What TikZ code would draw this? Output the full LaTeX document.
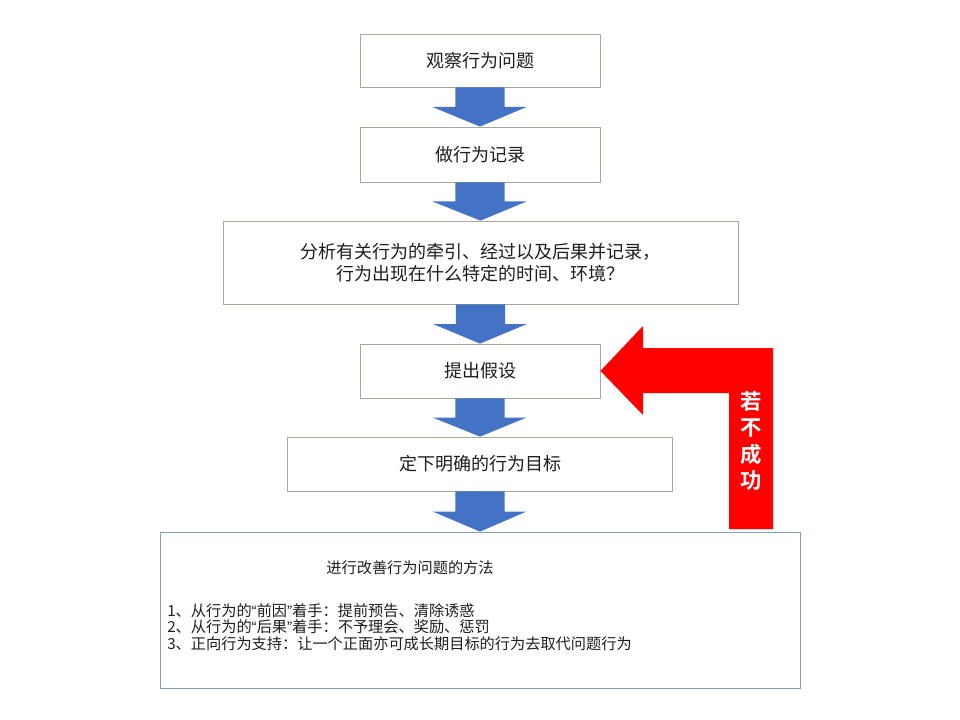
\documentclass[tikz,border=0pt]{standalone}
\usepackage{fontspec}
\setmainfont{Noto Sans CJK SC}
\newfontfamily\cjkbold{Noto Sans CJK SC}[BoldFont={* Bold}]
\newfontfamily\latinq{Liberation Sans}
\usetikzlibrary{calc}
\definecolor{boxline}{RGB}{165,170,150}
\definecolor{boxlineb}{RGB}{130,160,175}
\definecolor{arrowblue}{RGB}{68,114,196}
\definecolor{txt}{RGB}{30,30,30}
\tikzset{
  stepbox/.style={draw=boxline, line width=0.6pt, fill=white, inner sep=0pt,
    text=txt, font=\fontsize{13.5pt}{16.5pt}\selectfont, align=center},
  methodbox/.style={draw=boxlineb, line width=0.6pt, fill=white, inner sep=0pt},
}
\newcommand{\myopenq}{{\latinq “}}
\newcommand{\mycloseq}{{\latinq ”}}
\newcommand{\blockarr}[2]{%
  \path let \p1=(#1.south), \p2=(#2.north) in
    \pgfextra{\pgfmathsetmacro{\mid}{0.5*(\y1+\y2)}}
    [fill=arrowblue]
    (\x1-18.4pt,\y1) -- (\x1+18.4pt,\y1) -- (\x1+18.4pt,\mid pt)
    -- (\x1+34.9pt,\mid pt) -- (\x2,\y2) -- (\x1-35.6pt,\mid pt)
    -- (\x1-18.4pt,\mid pt) -- cycle;%
}
\begin{document}
\begin{tikzpicture}[x=0.75pt,y=-0.75pt]
\useasboundingbox[fill=white] (0,0) rectangle (960,720);

\node[stepbox, minimum width=240*0.75pt, minimum height=53*0.75pt] (b1) at (480,60.5) {观察行为问题};
\node[stepbox, minimum width=240*0.75pt, minimum height=55*0.75pt] (b2) at (480,154.5) {做行为记录};
\node[stepbox, minimum width=515*0.75pt, minimum height=83*0.75pt] (b3) at (480.5,262.5) {分析有关行为的牵引、经过以及后果并记录，\\行为出现在什么特定的时间、环境？};
\node[stepbox, minimum width=240*0.75pt, minimum height=54*0.75pt] (b4) at (480,371) {提出假设};
\node[stepbox, minimum width=385*0.75pt, minimum height=54*0.75pt] (b5) at (480,464) {定下明确的行为目标};
\node[methodbox, minimum width=640*0.75pt, minimum height=156*0.75pt] (b6) at (480,610) {};

\node[text=txt, font=\fontsize{11.4pt}{13pt}\selectfont] (t6) at (410,568) {进行改善行为问题的方法};
\node[text=txt, font=\fontsize{11.4pt}{12.4pt}\selectfont, align=left, anchor=west, inner sep=0pt] (l6) at (167,627)
  {1、从行为的\myopenq 前因\mycloseq 着手：提前预告、清除诱惑\\2、从行为的\myopenq 后果\mycloseq 着手：不予理会、奖励、惩罚\\3、正向行为支持：让一个正面亦可成长期目标的行为去取代问题行为};

\blockarr{b1}{b2}
\blockarr{b2}{b3}
\blockarr{b3}{b4}
\blockarr{b4}{b5}
\blockarr{b5}{b6}

% red feedback arrow
\coordinate (tip) at (b4.east);
\fill[red] (tip) -- (643,326) -- (643,348) -- (773,348) -- (773,529) -- (729,529)
  -- (729,393) -- (643,393) -- (643,415) -- cycle;
\node[text=white, font=\cjkbold\bfseries\fontsize{16pt}{19.8pt}\selectfont, align=center, inner sep=0pt] (fail) at (751,441) {若\\不\\成\\功};
\end{tikzpicture}
\end{document}
